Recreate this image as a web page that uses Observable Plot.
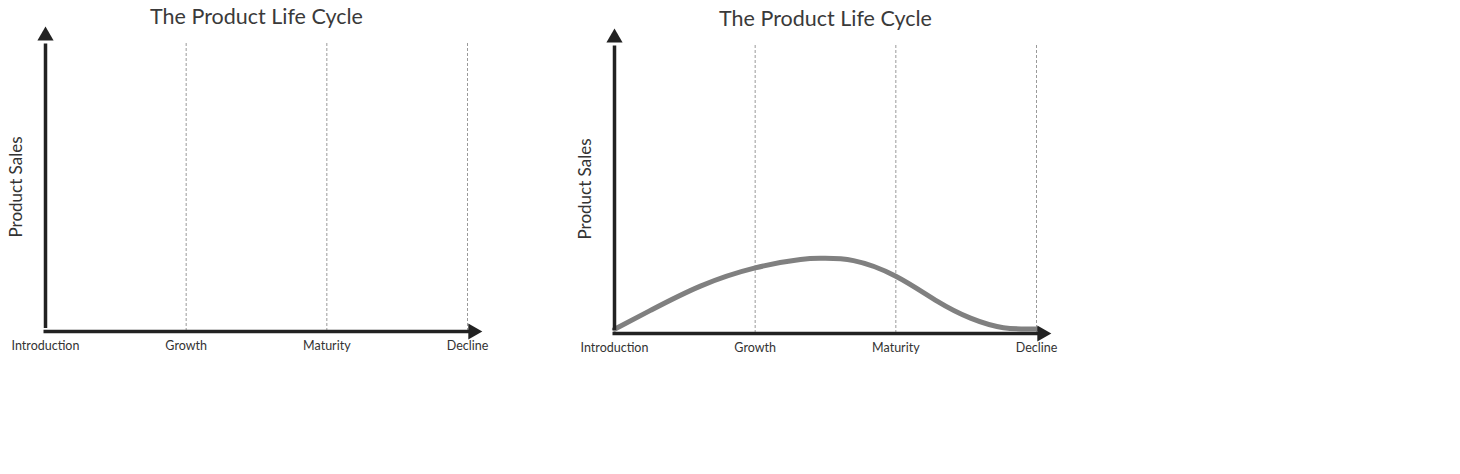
<!DOCTYPE html>
<html>
<head>
<meta charset="utf-8">
<script src="https://cdn.jsdelivr.net/npm/d3@7"></script>
<script src="https://cdn.jsdelivr.net/npm/@observablehq/plot@0.6"></script>
<style>
  html, body { margin: 0; padding: 0; background: #fff; }
  body { width: 1460px; height: 474px; position: relative; overflow: hidden; font-family: Lato, "DejaVu Sans", sans-serif; }
  .panel { position: absolute; }
</style>
</head>
<body>
<div id="left" class="panel" style="left:0px; top:0px;"></div>
<div id="right" class="panel" style="left:569px; top:2px;"></div>
<script>
const title = "The Product Life Cycle";
const yLabel = "Product Sales";
const stages = ["Introduction", "Growth", "Maturity", "Decline"];
const stageIndex = [0, 1, 2, 3];
const dividers = [1, 2, 3];
// Sales curve (right chart), x = stage position, y = sales (0-100 scale)
const curveX = [0, 0.256, 0.611, 1.0, 1.322, 1.479, 1.699, 2.0, 2.296, 2.531, 2.765, 3.0];
const curveY = [1.5, 8.0, 16.4, 22.7, 25.6, 26.0, 25.2, 19.8, 11.1, 5.3, 2.0, 1.6];

const curve = curveX.map((x, i) => ({x, y: curveY[i]}));
const labels = stageIndex.map((x, i) => ({x, label: stages[i]}));

function makeChart(withCurve) {
  const marks = [
    Plot.ruleX(dividers, {y1: 0, y2: 100, stroke: "#9a9a9a", strokeWidth: 1, strokeDasharray: "3,2"}),
  ];
  if (withCurve) {
    marks.push(Plot.line(curve, {x: "x", y: "y", curve: "natural", stroke: "#808080", strokeWidth: 5}));
  }
  marks.push(
    Plot.ruleY([0], {x1: 0, x2: 3, stroke: "#222", strokeWidth: 3.5, insetRight: -3, insetLeft: -1.5}),
    Plot.ruleX([0], {y1: 0, y2: 100, stroke: "#222", strokeWidth: 3.5, insetBottom: -1.5, insetTop: -3}),
    Plot.dot([0], {x: 0, y: 100, symbol: "triangle", r: 6, fill: "#222", stroke: "none", dy: -6.7}),
    Plot.dot([0], {x: 3, y: 0, symbol: "triangle", r: 6, fill: "#222", stroke: "none", rotate: 90, dx: 5.5}),
    Plot.text(labels, {x: "x", y: 0, text: "label", dy: 14, fontSize: 12.5, fill: "#333", lineAnchor: "middle"}),
    Plot.text([yLabel], {frameAnchor: "left", text: d => d, rotate: -90, dx: -29, textAnchor: "middle", lineAnchor: "middle", fontSize: 17, fill: "#333"}),
    Plot.text([title], {frameAnchor: "top", text: d => d, dy: -25, fontSize: 21.5, fill: "#3a3a3a", lineAnchor: "middle"})
  );
  return Plot.plot({
    width: 569,
    height: 380,
    marginLeft: 45,
    marginRight: 102,
    marginTop: 42,
    marginBottom: 49,
    x: {domain: [0, 3], axis: null},
    y: {domain: [0, 100], axis: null},
    style: {fontFamily: "Lato, 'DejaVu Sans', sans-serif", background: "transparent", overflow: "visible"},
    marks
  });
}

document.getElementById("left").appendChild(makeChart(false));
document.getElementById("right").appendChild(makeChart(true));
</script>
</body>
</html>
